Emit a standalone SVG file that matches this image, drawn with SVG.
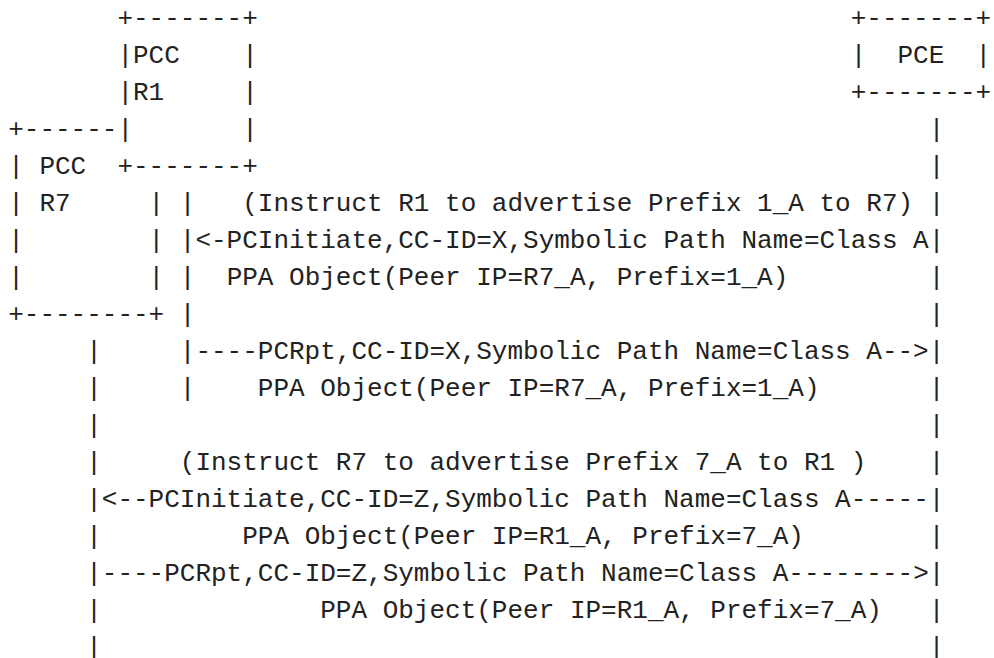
<svg xmlns="http://www.w3.org/2000/svg" width="994" height="658" viewBox="0 0 994 658">
  <style>
    text { font-family: "Liberation Mono", "DejaVu Sans Mono", monospace; font-size: 26px; fill: #222222; white-space: pre; }
  </style>
  <rect width="994" height="658" fill="#ffffff"/>

  <!-- PCC R1 box -->
  <g id="pcc-r1">
    <text xml:space="preserve" x="117.41" y="25.7">+-------+</text>
    <text xml:space="preserve" x="117.41" y="62.7">|PCC    |</text>
    <text xml:space="preserve" x="117.41" y="99.7">|R1     |</text>
    <text xml:space="preserve" x="117.41" y="136.7">|       |</text>
    <text xml:space="preserve" x="117.41" y="173.7">+-------+</text>
  </g>

  <!-- PCC R7 box -->
  <g id="pcc-r7">
    <text xml:space="preserve" x="8.2" y="136.7">+------</text>
    <text xml:space="preserve" x="8.2" y="173.7">| PCC</text>
    <text xml:space="preserve" x="8.2" y="210.7">| R7     |</text>
    <text xml:space="preserve" x="8.2" y="247.7">|        |</text>
    <text xml:space="preserve" x="8.2" y="284.7">|        |</text>
    <text xml:space="preserve" x="8.2" y="321.7">+--------+</text>
  </g>

  <!-- PCE box -->
  <g id="pce">
    <text xml:space="preserve" x="850.71" y="25.7">+-------+</text>
    <text xml:space="preserve" x="850.71" y="62.7">|  PCE  |</text>
    <text xml:space="preserve" x="850.71" y="99.7">+-------+</text>
  </g>

  <!-- lifelines and messages -->
  <g id="connectors">
    <!-- R1 lifeline -->
    <text x="179.82"><tspan x="179.82" y="210.7">|</tspan><tspan x="179.82" y="247.7">|</tspan><tspan x="179.82" y="284.7">|</tspan><tspan x="179.82" y="321.7">|</tspan><tspan x="179.82" y="358.7">|</tspan><tspan x="179.82" y="395.7">|</tspan></text>
    <!-- R7 lifeline -->
    <text x="86.21"><tspan x="86.21" y="358.7">|</tspan><tspan x="86.21" y="395.7">|</tspan><tspan x="86.21" y="432.7">|</tspan><tspan x="86.21" y="469.7">|</tspan><tspan x="86.21" y="506.7">|</tspan><tspan x="86.21" y="543.7">|</tspan><tspan x="86.21" y="580.7">|</tspan><tspan x="86.21" y="617.7">|</tspan><tspan x="86.21" y="654.7">|</tspan></text>
    <!-- PCE lifeline -->
    <text x="928.72"><tspan x="928.72" y="136.7">|</tspan><tspan x="928.72" y="173.7">|</tspan><tspan x="928.72" y="210.7">|</tspan><tspan x="928.72" y="247.7">|</tspan><tspan x="928.72" y="284.7">|</tspan><tspan x="928.72" y="321.7">|</tspan><tspan x="928.72" y="358.7">|</tspan><tspan x="928.72" y="395.7">|</tspan><tspan x="928.72" y="432.7">|</tspan><tspan x="928.72" y="469.7">|</tspan><tspan x="928.72" y="506.7">|</tspan><tspan x="928.72" y="543.7">|</tspan><tspan x="928.72" y="580.7">|</tspan><tspan x="928.72" y="617.7">|</tspan><tspan x="928.72" y="654.7">|</tspan></text>

    <!-- exchange for R1 -->
    <text xml:space="preserve" x="242.23" y="210.7">(Instruct R1 to advertise Prefix 1_A to R7)</text>
    <text xml:space="preserve" x="195.42" y="247.7">&lt;-PCInitiate,CC-ID=X,Symbolic Path Name=Class A</text>
    <text xml:space="preserve" x="226.63" y="284.7">PPA Object(Peer IP=R7_A, Prefix=1_A)</text>
    <text xml:space="preserve" x="195.42" y="358.7">----PCRpt,CC-ID=X,Symbolic Path Name=Class A--&gt;</text>
    <text xml:space="preserve" x="257.83" y="395.7">PPA Object(Peer IP=R7_A, Prefix=1_A)</text>

    <!-- exchange for R7 -->
    <text xml:space="preserve" x="179.82" y="469.7">(Instruct R7 to advertise Prefix 7_A to R1 )</text>
    <text xml:space="preserve" x="101.81" y="506.7">&lt;--PCInitiate,CC-ID=Z,Symbolic Path Name=Class A-----</text>
    <text xml:space="preserve" x="242.23" y="543.7">PPA Object(Peer IP=R1_A, Prefix=7_A)</text>
    <text xml:space="preserve" x="101.81" y="580.7">----PCRpt,CC-ID=Z,Symbolic Path Name=Class A--------&gt;</text>
    <text xml:space="preserve" x="320.24" y="617.7">PPA Object(Peer IP=R1_A, Prefix=7_A)</text>
  </g>
</svg>
